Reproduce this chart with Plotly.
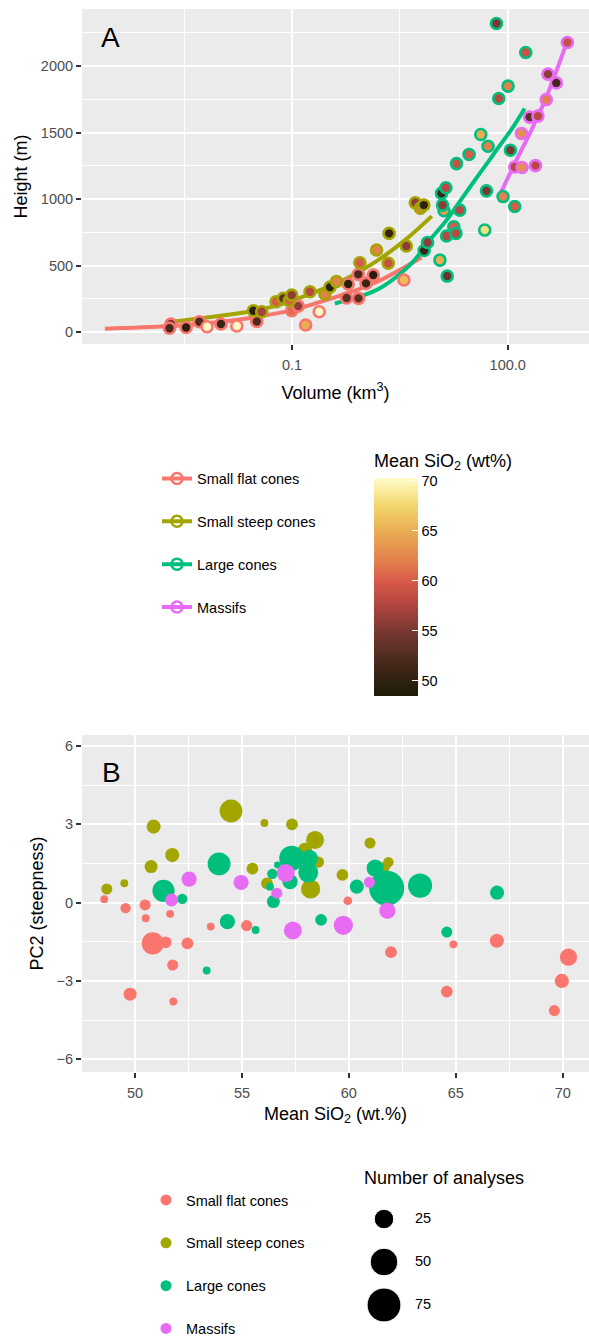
import plotly.graph_objects as go

# ---------------- data ----------------
GROUPS = ["Small flat cones", "Small steep cones", "Large cones", "Massifs"]
GROUP_COLORS = ["#F8766D", "#A3A500", "#00BF7D", "#E76BF3"]

# Panel A : volume (km3), height (m), mean SiO2 (wt%)
sfc_volume = [0.00207, 0.00198, 0.00337, 0.00515, 0.00659, 0.0103, 0.0171, 0.0324, 0.0991, 0.122,
              0.155, 0.239, 0.575, 0.605, 0.834, 0.84, 1.07, 1.35, 3.6]
sfc_height = [60, 28, 34, 77, 40, 60, 45, 79, 160, 195, 53, 153, 256, 361, 434, 253, 366, 429, 391]
sfc_sio2 = [55, 52, 49.5, 52, 70, 51, 70, 52, 61, 56, 65, 70, 53, 49.5, 52, 53, 51, 49.5, 66]

ssc_volume = [0.029, 0.0379, 0.06, 0.0757, 0.0917, 0.0991, 0.178, 0.287, 0.337, 0.415, 0.879, 1.5,
              2.18, 2.24, 3.89, 5.19, 6.1, 6.81]
ssc_height = [160, 153, 228, 253, 235, 278, 303, 286, 338, 380, 521, 617, 517, 742, 647, 972, 932, 955]
ssc_sio2 = [49.5, 57, 60, 53, 60, 56, 58, 62, 50, 62, 60, 62, 59, 50.5, 56, 56, 62, 50]

lc_volume = [6.88, 7.67, 11.4, 14.4, 14.1, 17.8, 19.0, 13.0, 21.5, 12.0, 13.8, 12.4, 47.9, 50.6, 86.1,
             125, 19.4, 29.0, 42.2, 53.2, 109, 75.0, 101, 178, 69.7]
lc_height = [613, 674, 541, 421, 722, 792, 742, 912, 917, 1043, 1085, 955, 767, 1062, 1019, 944, 1267,
             1336, 1486, 1398, 1368, 1757, 1850, 2103, 2321]
lc_sio2 = [51, 56, 65, 54, 58, 60, 58, 64, 58, 51, 58, 56, 68, 55, 62, 60, 59, 60, 65, 62, 55, 58,
           62, 59, 55]

ms_volume = [675, 363, 474, 343, 202, 263, 155, 125, 158, 243]
ms_height = [2178, 1940, 1874, 1748, 1617, 1624, 1494, 1241, 1238, 1252]
ms_sio2 = [59, 56, 51.5, 62, 53, 58, 63, 58, 63, 58]

# fitted curves
sfc_fit_volume = [0.00025, 0.002, 0.0138, 0.1, 0.196, 0.581, 1.67, 3.95, 6.32]
sfc_fit_height = [25, 45, 85, 165, 210, 290, 388, 497, 560]
ssc_fit_volume = [0.00202, 0.0287, 0.068, 0.196, 0.581, 1.67, 3.95, 8.79]
ssc_fit_height = [75, 158, 206, 294, 404, 551, 703, 872]
lc_fit_volume = [0.395, 0.968, 1.67, 2.84, 4.84, 8.26, 14.1, 23.9, 40.8, 69.7, 119, 172]
lc_fit_height = [215, 275, 330, 416, 529, 692, 842, 1017, 1193, 1368, 1544, 1682]
ms_fit_volume = [77.4, 119, 224, 345, 667]
ms_fit_height = [1030, 1243, 1544, 1769, 2183]

# Panel B : mean SiO2, PC2 (steepness), number of analyses
b_sfc_sio2 = [48.56, 49.56, 50.47, 50.5, 51.64, 50.83, 51.43, 52.45, 51.76, 49.77, 51.79, 53.54, 55.22,
              59.95, 61.97, 64.58, 64.89, 66.92, 70.27, 69.96, 69.61]
b_sfc_pc2 = [0.13, -0.21, -0.09, -0.6, -0.43, -1.56, -1.52, -1.56, -2.39, -3.51, -3.79, -0.92, -0.88,
             0.07, -1.9, -3.41, -1.6, -1.46, -2.09, -3.0, -4.14]
b_sfc_n = [4, 7, 8, 4, 4, 32, 9, 9, 8, 11, 4, 4, 8, 5, 9, 9, 4, 13, 19, 13, 8]

b_ssc_sio2 = [48.68, 49.5, 50.87, 50.75, 51.74, 54.49, 55.49, 56.05, 56.17, 57.34, 58.42, 57.95, 58.58,
              58.21, 59.7, 60.99, 61.85, 61.69]
b_ssc_pc2 = [0.52, 0.74, 2.91, 1.38, 1.82, 3.51, 1.3, 3.05, 0.74, 3.0, 2.4, 2.02, 1.55, 0.52, 1.06,
             2.28, 1.55, 1.38]
b_ssc_n = [8, 4, 13, 11, 13, 34, 9, 4, 9, 9, 21, 13, 8, 24, 9, 8, 7, 7]

b_lc_sio2 = [51.33, 52.21, 53.93, 56.42, 56.66, 56.31, 56.47, 56.55, 57.25, 57.33, 58.15, 58.1, 61.23,
             60.37, 61.77, 63.33, 66.93, 58.7, 64.58, 53.35, 54.32, 55.64]
b_lc_pc2 = [0.45, 0.14, 1.48, 1.1, 1.44, 0.61, 0.04, -0.01, 0.8, 1.7, 1.7, 1.15, 1.32, 0.61, 0.55, 0.65,
            0.38, -0.66, -1.13, -2.6, -0.73, -1.05]
b_lc_n = [32, 7, 34, 7, 3, 4, 11, 4, 15, 41, 19, 26, 19, 13, 80, 38, 13, 9, 8, 4, 15, 4]

b_ms_sio2 = [51.71, 52.53, 54.96, 56.63, 57.05, 57.38, 60.96, 61.8, 59.74]
b_ms_pc2 = [0.1, 0.9, 0.77, 0.36, 1.13, -1.07, 0.78, -0.31, -0.87]
b_ms_n = [11, 15, 15, 8, 21, 21, 8, 17, 24]

size_legend_values = [25, 50, 75]
size_legend_labels = ["25", "50", "75"]

colorbar_ticks = [50, 55, 60, 65, 70]

# ---------------- style ----------------
W, H = 589, 1337
FONT = "Liberation Sans, Arial, Helvetica, sans-serif"
BG = "#EBEBEB"
TICK_COL = "#4D4D4D"
SIZE_REF = 2.0 * 50 / 27.7 ** 2
SIO2_MIN, SIO2_MAX = 48.5, 70.3
LAJOLLA = [
    [0.00, "#1c1a06"],
    [0.15, "#46291b"],
    [0.30, "#7a3832"],
    [0.42, "#b2453f"],
    [0.52, "#d65849"],
    [0.62, "#e3804d"],
    [0.75, "#e9ab52"],
    [0.87, "#f2d56a"],
    [1.00, "#fffdcc"],
]


def px(x):
    return x / W


def py(y):
    return 1 - y / H


fig = go.Figure()

a_points = [
    (sfc_volume, sfc_height, sfc_sio2),
    (ssc_volume, ssc_height, ssc_sio2),
    (lc_volume, lc_height, lc_sio2),
    (ms_volume, ms_height, ms_sio2),
]
a_fits = [
    (sfc_fit_volume, sfc_fit_height),
    (ssc_fit_volume, ssc_fit_height),
    (lc_fit_volume, lc_fit_height),
    (ms_fit_volume, ms_fit_height),
]

# fitted lines
for (fx, fy), col in zip(a_fits, GROUP_COLORS):
    fig.add_trace(go.Scatter(x=fx, y=fy, mode="lines", line=dict(color=col, width=4, shape="spline"),
                             showlegend=False, hoverinfo="skip", xaxis="x", yaxis="y"))

# points
for (vx, hy, si), col in zip(a_points, GROUP_COLORS):
    fig.add_trace(go.Scatter(
        x=vx, y=hy, mode="markers", showlegend=False, xaxis="x", yaxis="y",
        marker=dict(size=11, color=si, coloraxis="coloraxis", opacity=1,
                    line=dict(color=col, width=2.6))))

# legend A entries
for i, (name, col) in enumerate(zip(GROUPS, GROUP_COLORS)):
    fig.add_trace(go.Scatter(
        x=[None], y=[None], mode="lines+markers", name=name, legend="legend",
        legendgroup="a%d" % i, line=dict(color=col, width=4),
        marker=dict(symbol="circle-open", size=11, color=col, line=dict(width=2.5)),
        xaxis="x", yaxis="y"))

# panel B
b_points = [
    (b_sfc_sio2, b_sfc_pc2, b_sfc_n),
    (b_ssc_sio2, b_ssc_pc2, b_ssc_n),
    (b_lc_sio2, b_lc_pc2, b_lc_n),
    (b_ms_sio2, b_ms_pc2, b_ms_n),
]
for (sx, pcy, n), col in zip(b_points, GROUP_COLORS):
    fig.add_trace(go.Scatter(
        x=sx, y=pcy, mode="markers", showlegend=False, xaxis="x2", yaxis="y2",
        marker=dict(size=n, sizemode="area", sizeref=SIZE_REF, color=col, opacity=1,
                    line=dict(width=0))))

for i, (name, col) in enumerate(zip(GROUPS, GROUP_COLORS)):
    fig.add_trace(go.Scatter(
        x=[None], y=[None], mode="markers", name=name, legend="legend2",
        legendgroup="b%d" % i, marker=dict(size=11, color=col), xaxis="x2", yaxis="y2"))

# size legend drawn on its own hidden axes
fig.add_trace(go.Scatter(
    x=[0] * len(size_legend_values), y=size_legend_labels, mode="markers", showlegend=False,
    xaxis="x3", yaxis="y3",
    marker=dict(size=size_legend_values, sizemode="area", sizeref=SIZE_REF, color="black", opacity=1)))
fig.add_trace(go.Scatter(
    x=[0.155] * len(size_legend_values), y=size_legend_labels, mode="text", text=size_legend_labels,
    textposition="middle right", showlegend=False, xaxis="x3", yaxis="y3",
    textfont=dict(size=14.5, color="black", family=FONT)))

axis_common = dict(
    showline=False, zeroline=False, ticks="outside", ticklen=5, tickwidth=1.5, tickcolor="#333333",
    tickfont=dict(size=14.5, color=TICK_COL, family=FONT), showgrid=True, gridcolor="white",
    gridwidth=2, automargin=False, layer="below traces",
)

panel_bg = [
    dict(type="rect", xref="x domain", yref="y domain", x0=0, x1=1, y0=0, y1=1,
         fillcolor=BG, line=dict(width=0), layer="below"),
    dict(type="rect", xref="x2 domain", yref="y2 domain", x0=0, x1=1, y0=0, y1=1,
         fillcolor=BG, line=dict(width=0), layer="below"),
]

fig.update_layout(
    width=W, height=H, autosize=False, template="none",
    margin=dict(l=0, r=0, t=0, b=0, autoexpand=False),
    paper_bgcolor="white", plot_bgcolor="rgba(0,0,0,0)",
    font=dict(family=FONT, color="black"),
    shapes=panel_bg,
    xaxis=dict(**axis_common, type="log", range=[-3.92, 3.13], domain=[px(82), 1],
               tickmode="array", tickvals=[0.1, 100], ticktext=["0.1", "100.0"], ticklabelstandoff=3,
               minor=dict(tickmode="array", tickvals=[10 ** -2.5, 10 ** 0.5], showgrid=True,
                          gridcolor="white", gridwidth=1, ticks=""),
               title=dict(text="Volume (km<sup>3</sup>)", font=dict(size=18, color="black"), standoff=13),
               anchor="y"),
    yaxis=dict(**axis_common, range=[-90, 2430], domain=[py(344), py(9)], dtick=500, tick0=0,
               minor=dict(dtick=250, tick0=0, showgrid=True, gridcolor="white", gridwidth=1, ticks=""),
               title=dict(text="Height (m)", font=dict(size=18, color="black"), standoff=8),
               anchor="x"),
    xaxis2=dict(**axis_common, range=[47.52, 71.23], domain=[px(82), 1], dtick=5, tick0=0,
                ticklabelstandoff=3,
                minor=dict(dtick=2.5, tick0=0, showgrid=True, gridcolor="white", gridwidth=1, ticks=""),
                title=dict(text="Mean SiO<sub>2</sub> (wt.%)", font=dict(size=18, color="black"), standoff=6),
                anchor="y2"),
    yaxis2=dict(**axis_common, range=[-6.49, 6.42], domain=[py(1072), py(735)], dtick=3, tick0=0,
                minor=dict(dtick=1.5, tick0=0, showgrid=True, gridcolor="white", gridwidth=1, ticks=""),
                title=dict(text="PC2 (steepness)", font=dict(size=18, color="black"), standoff=8),
                anchor="x2"),
    xaxis3=dict(visible=False, range=[-0.105, 0.895], domain=[px(363), px(563)], anchor="y3",
                fixedrange=True),
    yaxis3=dict(visible=False, type="category", range=[2.5, -0.5], domain=[py(1326.5), py(1197.5)],
                anchor="x3", fixedrange=True),
    coloraxis=dict(
        colorscale=LAJOLLA, cmin=SIO2_MIN, cmax=SIO2_MAX,
        colorbar=dict(
            x=px(374), xanchor="left", xpad=0, ypad=0, y=py(696), yanchor="bottom",
            thickness=44, thicknessmode="pixels", len=246, lenmode="pixels",
            outlinewidth=0, ticks="inside", ticklen=6, tickcolor="white", tickwidth=1,
            tickmode="array", tickvals=colorbar_ticks,
            tickfont=dict(size=14.5, color="black", family=FONT),
            title=dict(text="Mean SiO<sub>2</sub> (wt%)", side="top", font=dict(size=18, color="black")),
        ),
    ),
    legend=dict(x=px(157), y=py(462.5), xanchor="left", yanchor="top", bgcolor="rgba(0,0,0,0)",
                font=dict(size=14.5, color="black", family=FONT), tracegroupgap=21, itemwidth=30),
    legend2=dict(x=px(146), y=py(1184), xanchor="left", yanchor="top", bgcolor="rgba(0,0,0,0)",
                 font=dict(size=14.5, color="black", family=FONT), tracegroupgap=21, itemwidth=30),
    annotations=[
        dict(text="A", x=px(110.7), y=py(37.3), xref="paper", yref="paper", showarrow=False,
             xanchor="center", yanchor="middle", font=dict(size=28, color="black")),
        dict(text="B", x=px(111), y=py(772.3), xref="paper", yref="paper", showarrow=False,
             xanchor="center", yanchor="middle", font=dict(size=28, color="black")),
        dict(text="Number of analyses", x=px(362), y=py(1178), xref="paper", yref="paper",
             showarrow=False, xanchor="left", yanchor="middle", font=dict(size=18, color="black")),
    ],
)

fig.write_html("out.html", config={"responsive": False})
